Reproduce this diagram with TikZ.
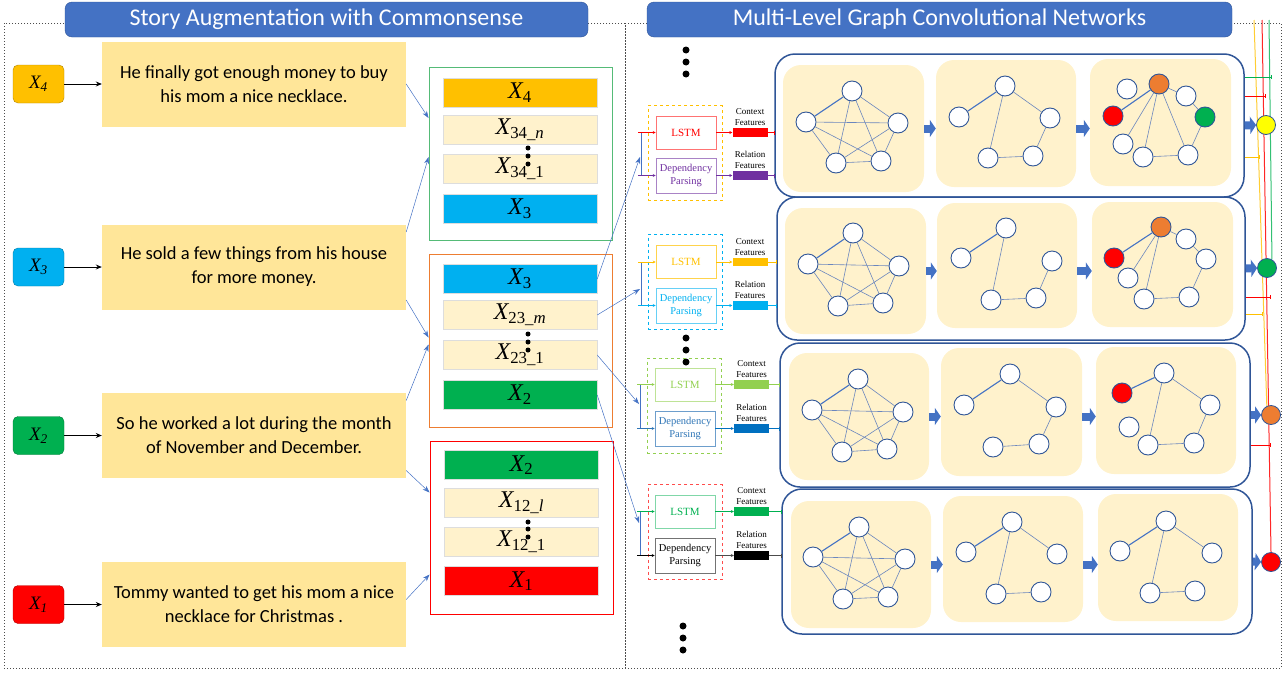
\documentclass[tikz,border=0pt]{standalone}
\usepackage{fontspec}
\setmainfont{Carlito}
\newfontfamily\timesfont{Liberation Serif}
\usetikzlibrary{positioning, arrows.meta, calc, backgrounds}

\definecolor{hdrblue}{HTML}{4472C4}
\definecolor{hdrline}{HTML}{2F5597}
\definecolor{sentbg}{HTML}{FFE699}
\definecolor{lightbar}{HTML}{FFF2CC}
\definecolor{bargray}{HTML}{DDDDDD}
\definecolor{xorange}{HTML}{FFC000}
\definecolor{xblue}{HTML}{00B0F0}
\definecolor{xgreen}{HTML}{00B050}
\definecolor{xred}{HTML}{FF0000}
\definecolor{stackgreen}{HTML}{55BB77}
\definecolor{stackorange}{HTML}{ED7D31}
\definecolor{panelbg}{HTML}{FFF2CC}
\definecolor{rowline}{HTML}{2F5597}
\definecolor{edgeblue}{HTML}{6A86BE}
\definecolor{dpurple}{HTML}{7030A0}
\definecolor{lgreen}{HTML}{92D050}
\definecolor{dblue}{HTML}{0070C0}
\definecolor{mblue}{HTML}{2E75B6}
\definecolor{nodeorange}{HTML}{ED7D31}
\definecolor{nodeyellow}{HTML}{FFFF00}

% sequence label: italic X with upright subscript
\newcommand{\seqlab}[1]{{\itshape X}\textsubscript{#1}}

\begin{document}
\begin{tikzpicture}[x=1pt, y=-1pt,
        dotframe/.style={draw=black!70, dotted, line width=1pt},
        header/.style={draw=hdrline, fill=hdrblue, rounded corners=7pt, text=white,
            minimum height=35pt, font=\fontsize{24}{27}\selectfont},
        xlab/.style={draw=#1!70!black, fill=#1, rounded corners=5pt, minimum width=51pt,
            minimum height=38pt, font=\timesfont\itshape\fontsize{19}{21}\selectfont},
        sentence/.style={fill=sentbg, minimum width=304pt, minimum height=85pt,
            align=center, font=\fontsize{18.5}{24}\selectfont},
        stack/.style={draw=#1, line width=0.9pt, minimum width=183pt, minimum height=173pt},
        seqbar/.style={draw=bargray, fill=#1, minimum width=154pt, minimum height=29pt,
            inner sep=0pt, font=\timesfont\fontsize{24}{24}\selectfont},
        vdot/.style={circle, fill=black, inner sep=0pt, minimum size=5pt},
        bigdot/.style={circle, fill=black, inner sep=0pt, minimum size=7pt},
        link/.style={hdrblue, line width=0.5pt, -{Stealth[length=7pt, width=5pt]}},
        fwd/.style={line width=0.8pt, -{Stealth[length=6pt, width=5pt]}},
        dashbox/.style={draw=#1, dashed, line width=0.6pt, minimum width=74pt, minimum height=95pt},
        lstmbox/.style={draw=#1, line width=0.6pt, minimum width=60pt, minimum height=33pt,
            font=\timesfont\fontsize{11}{12}\selectfont},
        dpbox/.style={draw=#1, line width=0.6pt, minimum width=60pt, minimum height=35pt,
            align=center, inner sep=1pt, font=\timesfont\fontsize{10.5}{12.5}\selectfont},
        feat/.style={fill=#1, minimum width=35pt, minimum height=8.5pt, inner sep=0pt},
        ftext/.style={align=center, inner sep=0pt, font=\timesfont\fontsize{9}{11}\selectfont},
        inarrow/.style={line width=0.6pt, -{Stealth[length=3pt, width=3pt]}},
        bus/.style={hdrblue, line width=0.6pt},
        tickline/.style={line width=0.7pt, -{Bar[width=4pt]}},
        rowbox/.style={draw=rowline, line width=1.5pt, rounded corners=20pt,
            minimum width=470pt, minimum height=143pt},
        panel/.style={fill=panelbg, rounded corners=18pt, minimum width=141pt, minimum height=127pt},
        gn/.style={circle, draw=rowline, fill=white, line width=0.9pt, minimum size=20pt, inner sep=0pt},
        gedge/.style={draw=edgeblue, line width=0.6pt},
        gedgeb/.style={draw=hdrblue, line width=1.1pt},
        blockarrow/.style={hdrblue, line width=8pt, -{Triangle[length=6pt, width=17pt]}},
        outc/.style={circle, draw=rowline, line width=0.8pt, fill=#1, minimum size=19pt, inner sep=0pt},
        feed/.style={line width=1pt},
    ]
    \useasboundingbox (0,0) rectangle (1287,675);

    % dotted frames of the two parts
    \draw[dotframe] (4,23) rectangle (625,668);
    \draw[dotframe] (625,23) rectangle (1281,668);

    % headers
    \node[header, minimum width=523pt] (hleft) at (326.5,19.5) {Story Augmentation with Commonsense};
    \node[header, minimum width=585pt] (hright) at (939.5,19.5) {Multi-Level Graph Convolutional Networks};

    % story sentences
    \node[xlab=xorange] (x4) at (38.5,84) {X\textsubscript{4}};
    \node[xlab=xblue] (x3) at (38.5,267) {X\textsubscript{3}};
    \node[xlab=xgreen] (x2) at (38.5,435.5) {X\textsubscript{2}};
    \node[xlab=xred] (x1) at (38.5,604.5) {X\textsubscript{1}};
    \node[sentence] (s4) at (254,84) {He finally got enough money to buy\\his mom a nice necklace.};
    \node[sentence] (s3) at (254,267) {He sold a few things from his house\\for more money.};
    \node[sentence] (s2) at (254,435.5) {So he worked a lot during the month\\of November and December.};
    \node[sentence] (s1) at (254,604.5) {Tommy wanted to get his mom a nice\\necklace for Christmas .};
    \draw[fwd] (x4) -- (s4);
    \draw[fwd] (x3) -- (s3);
    \draw[fwd] (x2) -- (s2);
    \draw[fwd] (x1) -- (s1);

    % augmented pairs
    \node[stack=stackgreen] (gbox) at (520.5,154) {};
    \node[seqbar=xorange] (g1) at (520,93) {\seqlab{4}};
    \node[seqbar=lightbar] (g2) at (520,130) {\seqlab{34\_\textit{n}}};
    \node[seqbar=lightbar] (g3) at (520,168.5) {\seqlab{34\_1}};
    \node[seqbar=xblue] (g4) at (520,208.5) {\seqlab{3}};
    \node[vdot] (gd1) at (528,148) {};
    \node[vdot] (gd2) at (528,156) {};
    \node[vdot] (gd3) at (528,164) {};

    \node[stack=stackorange] (obox) at (520.5,340.5) {};
    \node[seqbar=xblue] (o1) at (520,279) {\seqlab{3}};
    \node[seqbar=lightbar] (o2) at (520,315) {\seqlab{23\_\textit{m}}};
    \node[seqbar=lightbar] (o3) at (520,355) {\seqlab{23\_1}};
    \node[seqbar=xgreen] (o4) at (520,395) {\seqlab{2}};
    \node[vdot] (od1) at (528,334) {};
    \node[vdot] (od2) at (528,342) {};
    \node[vdot] (od3) at (528,350) {};

    \node[stack=xred] (rbox) at (521.5,527.5) {};
    \node[seqbar=xgreen] (r1) at (521.5,465) {\seqlab{2}};
    \node[seqbar=lightbar] (r2) at (521.5,502.5) {\seqlab{12\_\textit{l}}};
    \node[seqbar=lightbar] (r3) at (521.5,541.5) {\seqlab{12\_1}};
    \node[seqbar=xred] (r4) at (521.5,581) {\seqlab{1}};
    \node[vdot] (rd1) at (528,522) {};
    \node[vdot] (rd2) at (528,529) {};
    \node[vdot] (rd3) at (528,537) {};

    \draw[link] (s4.east) -- ([yshift=36pt]gbox.west);
    \draw[link] ([yshift=35pt]s3.east) -- ([yshift=-3pt]gbox.west);
    \draw[link] ([yshift=-33pt]s3.east) -- ([yshift=3pt]obox.west);
    \draw[link] ([yshift=35pt]s2.east) -- ([yshift=-4pt]obox.west);
    \draw[link] ([yshift=-35pt]s2.east) -- ([yshift=35pt]rbox.west);
    \draw[link] ([yshift=5pt]s1.east) -- ([yshift=-47pt]rbox.west);

    % encoders
    \node[bigdot] (td1) at (686,50) {};
    \node[bigdot] (td2) at (686,62) {};
    \node[bigdot] (td3) at (686,74) {};

    \node[dashbox=xorange] (blk1) at (685,153) {};
    \node[lstmbox=xred!55, text=xred] (lstm1) at (686,132.5) {LSTM};
    \node[dpbox=dpurple!60, text=dpurple] (dp1) at (686,175.5) {Dependency\\Parsing};
    \node[feat=xred] (ctx1) at (750,132.5) {};
    \node[feat=dpurple] (rel1) at (750,175.5) {};
    \node[ftext, above=2pt of ctx1] (ct1) {Context\\Features};
    \node[ftext, above=2pt of rel1] (rt1) {Relation\\Features};

    \node[dashbox=xblue] (blk2) at (685,282) {};
    \node[lstmbox=xorange!70, text=xorange] (lstm2) at (686,262) {LSTM};
    \node[dpbox=xblue!60, text=xblue] (dp2) at (686,305.5) {Dependency\\Parsing};
    \node[feat=xorange] (ctx2) at (750,262) {};
    \node[feat=xblue] (rel2) at (750,305.5) {};
    \node[ftext, above=2pt of ctx2] (ct2) {Context\\Features};
    \node[ftext, above=2pt of rel2] (rt2) {Relation\\Features};

    \node[bigdot] (md1) at (686,338) {};
    \node[bigdot] (md2) at (686,350) {};
    \node[bigdot] (md3) at (686,362) {};

    \node[dashbox=lgreen] (blk3) at (684,406) {};
    \node[lstmbox=lgreen!60, text=lgreen] (lstm3) at (685,384.5) {LSTM};
    \node[dpbox=mblue!70, text=mblue] (dp3) at (685,428.5) {Dependency\\Parsing};
    \node[feat=lgreen] (ctx3) at (751.5,384.5) {};
    \node[feat=dblue] (rel3) at (751.5,428.5) {};
    \node[ftext, above=2pt of ctx3] (ct3) {Context\\Features};
    \node[ftext, above=2pt of rel3] (rt3) {Relation\\Features};

    \node[dashbox=xred!70] (blk4) at (685,532) {};
    \node[lstmbox=xgreen!50, text=xgreen] (lstm4) at (685,511.5) {LSTM};
    \node[dpbox=black!55, text=black] (dp4) at (685,555.5) {Dependency\\Parsing};
    \node[feat=xgreen] (ctx4) at (751.5,511.5) {};
    \node[feat=black] (rel4) at (751.5,555.5) {};
    \node[ftext, above=2pt of ctx4] (ct4) {Context\\Features};
    \node[ftext, above=2pt of rel4] (rt4) {Relation\\Features};

    \node[bigdot] (bd1) at (683,626) {};
    \node[bigdot] (bd2) at (683,638) {};
    \node[bigdot] (bd3) at (683,650) {};

    % encoder inputs
    \coordinate (i1a) at (638,132.5);
    \coordinate (i1b) at (638,175.5);
    \coordinate (i2a) at (638,262);
    \coordinate (i2b) at (638,305.5);
    \coordinate (i3a) at (637,384.5);
    \coordinate (i3b) at (637,428.5);
    \coordinate (i4a) at (637,511.5);
    \coordinate (i4b) at (637,555.5);
    \draw[bus] ([xshift=3pt]i1a) -- ([xshift=3pt]i1b);
    \draw[bus] ([xshift=3pt]i2a) -- ([xshift=3pt]i2b);
    \draw[bus] ([xshift=3pt]i3a) -- ([xshift=3pt]i3b);
    \draw[bus] ([xshift=3pt]i4a) -- ([xshift=3pt]i4b);
    \draw[inarrow, xred] (i1a) -- (lstm1);
    \draw[inarrow, dpurple] (i1b) -- (dp1);
    \draw[inarrow, xorange] (i2a) -- (lstm2);
    \draw[inarrow, xblue] (i2b) -- (dp2);
    \draw[inarrow, lgreen] (i3a) -- (lstm3);
    \draw[inarrow, mblue] (i3b) -- (dp3);
    \draw[inarrow, xgreen] (i4a) -- (lstm4);
    \draw[inarrow, black] (i4b) -- (dp4);
    \coordinate (j1) at (640,157);
    \coordinate (j2) at (640,289);
    \coordinate (j3) at (639,404);
    \coordinate (j4) at (639,523);
    \draw[link] (o1.east) -- (j1);
    \draw[link] (o2.east) -- (j2);
    \draw[link] (o3.east) -- (j3);
    \draw[link] (o4.east) -- (j4);

    % encoder outputs
    \draw[inarrow, xred] (lstm1) -- (ctx1);
    \draw[inarrow, dpurple] (dp1) -- (rel1);
    \draw[inarrow, xorange] (lstm2) -- (ctx2);
    \draw[inarrow, xblue] (dp2) -- (rel2);
    \draw[inarrow, lgreen] (lstm3) -- (ctx3);
    \draw[inarrow, dblue] (dp3) -- (rel3);
    \draw[inarrow, xgreen] (lstm4) -- (ctx4);
    \draw[inarrow, black!70] (dp4) -- (rel4);

    % graph levels, row 1
    \node[rowbox, minimum width=469pt] (row1) at (1009.5,125.5) {};
    \node[panel] (p11) at (853.5,128.5) {};
    \node[panel, minimum width=140pt] (p12) at (1006,123.5) {};
    \node[panel] (p13) at (1160.5,122.5) {};
    \node[gn] (k1t) at (852,91) {};
    \node[gn] (k1l) at (806,122) {};
    \node[gn] (k1r) at (898,123) {};
    \node[gn] (k1bl) at (836,163) {};
    \node[gn] (k1br) at (881,161) {};
    \node[gn] (a1t) at (1005,86) {};
    \node[gn] (a1l) at (959,117) {};
    \node[gn] (a1r) at (1050,118) {};
    \node[gn] (a1bl) at (988,158) {};
    \node[gn] (a1br) at (1033,156) {};
    \node[gn] (b1w) at (1127,89) {};
    \node[gn, fill=nodeorange] (b1o) at (1159,84) {};
    \node[gn] (b1v) at (1186,96) {};
    \node[gn, fill=xred] (b1red) at (1113,116) {};
    \node[gn, fill=xgreen] (b1g) at (1205,117) {};
    \node[gn] (b1u) at (1123,144) {};
    \node[gn] (b1bl) at (1143,157) {};
    \node[gn] (b1br) at (1188,155) {};
    \draw[gedgeb] (a1t) -- (a1l);
    \draw[gedge] (a1t) -- (a1r);
    \draw[gedge] (a1t) -- (a1bl);
    \draw[gedge] (a1bl) -- (a1br);
    \draw[gedge] (a1br) -- (a1r);
    \draw[gedgeb] (b1o) -- (b1red);
    \draw[gedge] (b1o) -- (b1u);
    \draw[gedge] (b1o) -- (b1bl);
    \draw[gedge] (b1o) -- (b1br);
    \draw[gedge] (b1o) -- (b1v);
    \draw[gedge] (b1v) -- (b1g);
    \draw[gedge] (b1g) -- (b1br);
    \draw[gedge] (b1bl) -- (b1br);

    % row 2
    \node[rowbox, minimum width=468pt] (row2) at (1011,268.5) {};
    \node[panel, minimum height=126pt] (p21) at (855.5,271) {};
    \node[panel, minimum width=140pt, minimum height=125pt] (p22) at (1007,265.5) {};
    \node[panel, minimum height=125pt] (p23) at (1162.5,264.5) {};
    \node[gn] (k2t) at (853,233) {};
    \node[gn] (k2l) at (808,264) {};
    \node[gn] (k2r) at (899,266) {};
    \node[gn] (k2bl) at (838,306) {};
    \node[gn] (k2br) at (883,303) {};
    \node[gn] (a2t) at (1006,228) {};
    \node[gn] (a2l) at (961,258) {};
    \node[gn] (a2r) at (1052,261) {};
    \node[gn] (a2bl) at (991,300) {};
    \node[gn] (a2br) at (1036,298) {};
    \node[gn, fill=nodeorange] (b2o) at (1161,227) {};
    \node[gn] (b2v) at (1186,239) {};
    \node[gn, fill=xred] (b2red) at (1114,258) {};
    \node[gn] (b2r) at (1206,259) {};
    \node[gn] (b2u) at (1128,278) {};
    \node[gn] (b2bl) at (1144,299) {};
    \node[gn] (b2br) at (1189,297) {};
    \draw[gedgeb] (a2t) -- (a2l);
    \draw[gedge] (a2t) -- (a2bl);
    \draw[gedge] (a2bl) -- (a2br);
    \draw[gedge] (a2br) -- (a2r);
    \draw[gedgeb] (b2o) -- (b2red);
    \draw[gedge] (b2o) -- (b2u);
    \draw[gedge] (b2o) -- (b2bl);
    \draw[gedge] (b2o) -- (b2v);
    \draw[gedge] (b2v) -- (b2r);
    \draw[gedge] (b2r) -- (b2br);
    \draw[gedge] (b2bl) -- (b2br);

    % row 3
    \node[rowbox, minimum height=144pt] (row3) at (1015,415) {};
    \node[panel, minimum width=140pt] (p31) at (859,416.5) {};
    \node[panel, minimum height=128pt] (p32) at (1011.5,412) {};
    \node[panel, minimum width=140pt] (p33) at (1166,410.5) {};
    \node[gn] (k3t) at (858,379) {};
    \node[gn] (k3l) at (812,410) {};
    \node[gn] (k3r) at (903,412) {};
    \node[gn] (k3bl) at (842,452) {};
    \node[gn] (k3br) at (887,449) {};
    \node[gn] (a3t) at (1010,374) {};
    \node[gn] (a3l) at (964,405) {};
    \node[gn] (a3r) at (1056,407) {};
    \node[gn] (a3bl) at (993,447) {};
    \node[gn] (a3br) at (1039,444) {};
    \node[gn] (b3t) at (1164,373) {};
    \node[gn, fill=xred] (b3red) at (1122,393) {};
    \node[gn] (b3r) at (1210,405) {};
    \node[gn] (b3u) at (1129,427) {};
    \node[gn] (b3bl) at (1148,445) {};
    \node[gn] (b3br) at (1194,443) {};
    \draw[gedgeb] (a3t) -- (a3l);
    \draw[gedge] (a3t) -- (a3r);
    \draw[gedge] (a3r) -- (a3br);
    \draw[gedge] (a3br) -- (a3bl);
    \draw[gedgeb] (b3red) -- (b3t);
    \draw[gedge] (b3t) -- (b3bl);
    \draw[gedge] (b3t) -- (b3r);
    \draw[gedge] (b3r) -- (b3br);
    \draw[gedge] (b3bl) -- (b3br);

    % row 4
    \node[rowbox, minimum height=145pt] (row4) at (1017,561.5) {};
    \node[panel, minimum width=140pt] (p41) at (861,564.5) {};
    \node[panel, minimum width=140pt, minimum height=126pt] (p42) at (1013,559) {};
    \node[panel, minimum width=140pt] (p43) at (1168,557.5) {};
    \node[gn] (k4t) at (859,527) {};
    \node[gn] (k4l) at (813,557) {};
    \node[gn] (k4r) at (905,559) {};
    \node[gn] (k4bl) at (843,599) {};
    \node[gn] (k4br) at (888,597) {};
    \node[gn] (a4t) at (1012,522) {};
    \node[gn] (a4l) at (966,552) {};
    \node[gn] (a4r) at (1057,554) {};
    \node[gn] (a4bl) at (996,594) {};
    \node[gn] (a4br) at (1041,592) {};
    \node[gn] (b4t) at (1166,521) {};
    \node[gn] (b4l) at (1120,551) {};
    \node[gn] (b4r) at (1212,553) {};
    \node[gn] (b4bl) at (1150,593) {};
    \node[gn] (b4br) at (1195,591) {};
    \draw[gedgeb] (a4t) -- (a4l);
    \draw[gedge] (a4t) -- (a4r);
    \draw[gedge] (a4t) -- (a4bl);
    \draw[gedge] (a4bl) -- (a4br);
    \draw[gedgeb] (b4t) -- (b4l);
    \draw[gedge] (b4t) -- (b4r);
    \draw[gedge] (b4t) -- (b4bl);
    \draw[gedge] (b4bl) -- (b4br);

    % full graphs of the first level
    \foreach \r in {1,2,3,4} {
        \draw[gedgeb] (k\r t) -- (k\r l);
        \foreach \a/\b in {t/r,t/bl,t/br,l/r,l/bl,l/br,r/bl,r/br,bl/br}
            \draw[gedge] (k\r\a) -- (k\r\b);
    }

    % features into the levels
    \draw[tickline, xred] (ctx1) -- (ctx1 -| row1.west);
    \draw[tickline, dpurple] (rel1) -- (rel1 -| row1.west);
    \draw[tickline, xorange] (ctx2) -- (ctx2 -| row2.west);
    \draw[tickline, xblue] (rel2) -- (rel2 -| row2.west);
    \draw[tickline, lgreen] (ctx3) -- (ctx3 -| row3.west);
    \draw[tickline, dblue] (rel3) -- (rel3 -| row3.west);
    \draw[tickline, xgreen] (ctx4) -- (ctx4 -| row4.west);
    \draw[tickline, black!70] (rel4) -- (rel4 -| row4.west);

    % level arrows
    \draw[blockarrow] (p11.east) -- (p11.east -| p12.west);
    \draw[blockarrow] (p12.east |- p11.east) -- (p11.east -| p13.west);
    \draw[blockarrow] (p21.east) -- (p21.east -| p22.west);
    \draw[blockarrow] (p22.east |- p21.east) -- (p21.east -| p23.west);
    \draw[blockarrow] (p31.east) -- (p31.east -| p32.west);
    \draw[blockarrow] (p32.east |- p31.east) -- (p31.east -| p33.west);
    \draw[blockarrow] (p41.east) -- (p41.east -| p42.west);
    \draw[blockarrow] (p42.east |- p41.east) -- (p41.east -| p43.west);

    % outputs and their links
    \coordinate (ytop) at (1254,20);
    \coordinate (rtop) at (1262,20);
    \coordinate (gtop) at (1269,20);
    \node[outc=nodeyellow] (yc) at (1266,125) {};
    \node[outc=xgreen] (gc) at (1267,268) {};
    \node[outc=nodeorange] (oc) at (1271,415) {};
    \node[outc=xred] (rc) at (1271,562) {};
    \begin{scope}[on background layer]
        \draw[feed, xorange!80] (ytop) -- (oc.115);
        \draw[feed, xred!85] (rtop) -- (rc.north);
        \draw[feed, xgreen!80] (gtop) -- (gc.60);
    \end{scope}
    \draw[tickline, xgreen] ([yshift=48.5pt]row1.east) -- +(27,0);
    \draw[tickline, xred] ([yshift=29.5pt]row1.east) -- +(21,0);
    \draw[tickline, xorange] ([yshift=-31.5pt]row1.east) -- +(15,0);
    \draw[tickline, xred] ([yshift=-28.5pt]row2.east) -- +(25,0);
    \draw[tickline, xorange] ([yshift=-45.5pt]row2.east) -- +(17,0);
    \draw[tickline, xred] ([yshift=-30pt]row3.east) -- +(20,0);
    \draw[blockarrow] (row1.east) -- (yc.west);
    \draw[blockarrow] (row2.east) -- (gc.west);
    \draw[blockarrow] (row3.east) -- (oc.west);
    \draw[blockarrow] (row4.east) -- (rc.west);
\end{tikzpicture}
\end{document}
